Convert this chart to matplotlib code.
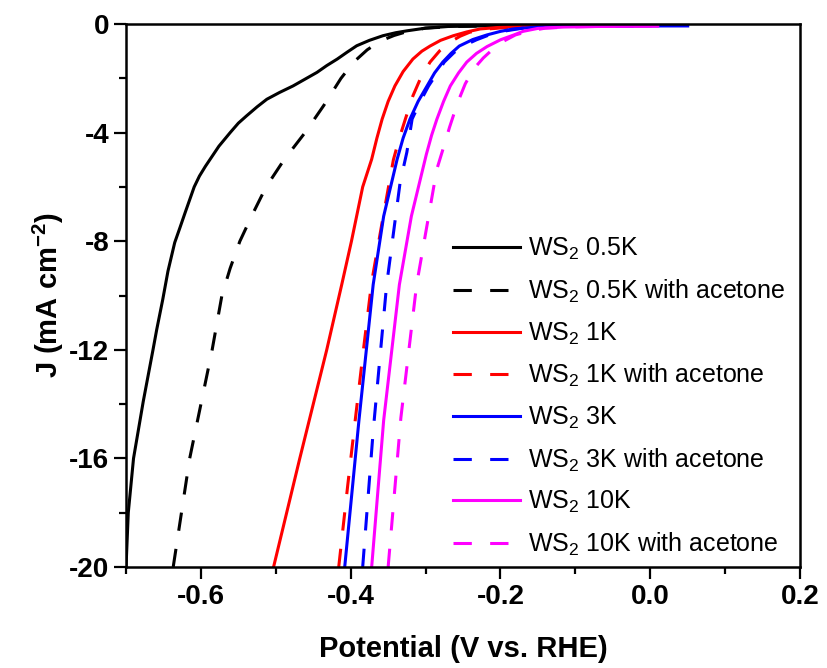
import matplotlib
matplotlib.use("Agg")
import matplotlib.pyplot as plt
from matplotlib.ticker import MultipleLocator

plt.rcParams['font.family'] = ['Liberation Sans', 'DejaVu Sans']
plt.rcParams['mathtext.fontset'] = 'custom'
plt.rcParams['mathtext.rm'] = 'Liberation Sans'
plt.rcParams['mathtext.bf'] = 'Liberation Sans:bold'

# polarization curves: potential (V vs. RHE) and current density (mA cm^-2)
v_05k = [-0.700, -0.697, -0.690, -0.677, -0.664, -0.659, -0.651, -0.644, -0.635, -0.628,
         -0.621, -0.609, -0.602, -0.594, -0.576, -0.561, -0.550, -0.539, -0.525, -0.512,
         -0.495, -0.477, -0.461, -0.445, -0.432, -0.418, -0.405, -0.392, -0.375, -0.357,
         -0.340, -0.325, -0.300, -0.270, -0.200, -0.100]
j_05k = [-20.0, -18.0, -16.0, -13.9, -12.0, -11.25, -10.15, -9.1, -8.05, -7.5,
         -6.94, -6.0, -5.6, -5.24, -4.5, -4.0, -3.65, -3.38, -3.05, -2.77,
         -2.52, -2.28, -2.03, -1.78, -1.53, -1.29, -1.04, -0.80, -0.60, -0.43,
         -0.32, -0.25, -0.15, -0.09, -0.06, -0.05]

v_05k_ac = [-0.637, -0.615, -0.585, -0.572, -0.561, -0.548, -0.531, -0.513, -0.489, -0.461,
            -0.436, -0.413, -0.396, -0.378, -0.360, -0.342, -0.325, -0.300, -0.260, -0.200]
j_05k_ac = [-20.0, -16.0, -12.0, -10.0, -9.0, -8.0, -7.0, -6.0, -5.0, -4.0,
            -3.0, -2.0, -1.4, -0.95, -0.62, -0.42, -0.28, -0.15, -0.09, -0.06]

v_1k = [-0.503, -0.468, -0.432, -0.412, -0.399, -0.384, -0.372, -0.365, -0.358, -0.350,
        -0.341, -0.330, -0.317, -0.305, -0.294, -0.280, -0.263, -0.245, -0.227, -0.196,
        -0.160, -0.100, 0.000]
j_1k = [-20.0, -16.0, -12.0, -9.6, -8.0, -6.0, -4.98, -4.2, -3.5, -2.85,
        -2.28, -1.75, -1.29, -1.0, -0.81, -0.60, -0.43, -0.29, -0.18, -0.11,
        -0.08, -0.065, -0.06]

v_1k_ac = [-0.416, -0.404, -0.394, -0.383, -0.372, -0.358, -0.343, -0.335, -0.327, -0.317,
           -0.306, -0.294, -0.281, -0.267, -0.254, -0.241, -0.220, -0.190, -0.140, -0.050]
j_1k_ac = [-20.0, -17.0, -14.6, -12.0, -9.5, -7.3, -5.0, -4.2, -3.5, -2.65,
           -1.95, -1.40, -0.98, -0.66, -0.45, -0.30, -0.19, -0.12, -0.08, -0.065]

v_3k = [-0.408, -0.389, -0.370, -0.356, -0.338, -0.330, -0.321, -0.310, -0.298, -0.288,
        -0.277, -0.266, -0.255, -0.237, -0.218, -0.200, -0.183, -0.151, -0.120, -0.050,
        0.050]
j_3k = [-20.0, -14.6, -9.6, -7.08, -4.98, -4.2, -3.51, -2.85, -2.28, -1.8,
        -1.40, -1.08, -0.81, -0.57, -0.40, -0.27, -0.18, -0.11, -0.085, -0.07,
        -0.07]

v_3k_ac = [-0.384, -0.370, -0.352, -0.334, -0.325, -0.318, -0.307, -0.296, -0.275, -0.262,
           -0.250, -0.232, -0.215, -0.195, -0.170, -0.120, 0.000]
j_3k_ac = [-20.0, -15.0, -9.6, -5.83, -4.72, -3.5, -2.85, -2.28, -1.40, -1.05,
           -0.81, -0.58, -0.40, -0.26, -0.15, -0.09, -0.07]

v_10k = [-0.372, -0.356, -0.335, -0.319, -0.299, -0.292, -0.285, -0.276, -0.267, -0.256,
         -0.245, -0.232, -0.218, -0.200, -0.182, -0.170, -0.150, -0.116, -0.070, 0.010]
j_10k = [-20.0, -14.6, -9.6, -7.08, -4.8, -4.1, -3.51, -2.85, -2.28, -1.8,
         -1.40, -1.08, -0.83, -0.58, -0.40, -0.27, -0.16, -0.11, -0.09, -0.08]

v_10k_ac = [-0.350, -0.333, -0.312, -0.285, -0.278, -0.268, -0.257, -0.247, -0.236, -0.223,
            -0.210, -0.195, -0.180, -0.160, -0.140, -0.100, -0.050]
j_10k_ac = [-20.0, -14.5, -9.6, -5.35, -4.72, -3.8, -2.88, -2.2, -1.66, -1.25,
            -0.92, -0.62, -0.40, -0.25, -0.15, -0.10, -0.08]

labels = ['WS$_2$ 0.5K', 'WS$_2$ 0.5K with acetone',
          'WS$_2$ 1K', 'WS$_2$ 1K with acetone',
          'WS$_2$ 3K', 'WS$_2$ 3K with acetone',
          'WS$_2$ 10K', 'WS$_2$ 10K with acetone']

series = [(v_05k, j_05k), (v_05k_ac, j_05k_ac), (v_1k, j_1k), (v_1k_ac, j_1k_ac),
          (v_3k, j_3k), (v_3k_ac, j_3k_ac), (v_10k, j_10k), (v_10k_ac, j_10k_ac)]
colors = ['black', 'black', '#ff0000', '#ff0000', '#0000ff', '#0000ff', '#ff00ff', '#ff00ff']

fig = plt.figure(figsize=(8.27, 6.68), dpi=100)
ax = fig.add_axes([0.1524, 0.1512, 0.815, 0.8128])

for i, (v, j) in enumerate(series):
    if i % 2 == 0:
        ax.plot(v, j, color=colors[i], lw=2.2, label=labels[i])
    else:
        ax.plot(v, j, color=colors[i], lw=2.2, dashes=(6, 6), label=labels[i])

ax.set_xlim(-0.7, 0.2)
ax.set_ylim(-20, 0)
ax.xaxis.set_minor_locator(MultipleLocator(0.1))
ax.yaxis.set_minor_locator(MultipleLocator(2))
ax.set_xticks([-0.6, -0.4, -0.2, 0.0, 0.2])
ax.set_xticklabels(['-0.6', '-0.4', '-0.2', '0.0', '0.2'])
ax.set_yticks([0, -4, -8, -12, -16, -20])
ax.set_yticklabels(['0', '-4', '-8', '-12', '-16', '-20'])

for s in ax.spines.values():
    s.set_linewidth(1.8)
ax.tick_params(which='both', direction='out', top=False, right=False, width=1.6)
ax.tick_params(which='major', length=8.5)
ax.tick_params(which='minor', length=5)
for t in ax.get_xticklabels() + ax.get_yticklabels():
    t.set_fontsize(20)
    t.set_fontweight('bold')

ax.set_xlabel('Potential (V vs. RHE)', fontsize=21, fontweight='bold', labelpad=18)
ax.set_ylabel(r'J (mA cm$^{\mathbf{-2}}$)', fontsize=21, fontweight='bold', labelpad=2)

ax.legend(loc='upper left', bbox_to_anchor=(453 / 827, 1 - 236 / 668),
          bbox_transform=fig.transFigure, frameon=False, fontsize=18,
          handlelength=2.68, handletextpad=0.3, labelspacing=0.62,
          borderpad=0, borderaxespad=0)

fig.savefig('out.png', dpi=100)
